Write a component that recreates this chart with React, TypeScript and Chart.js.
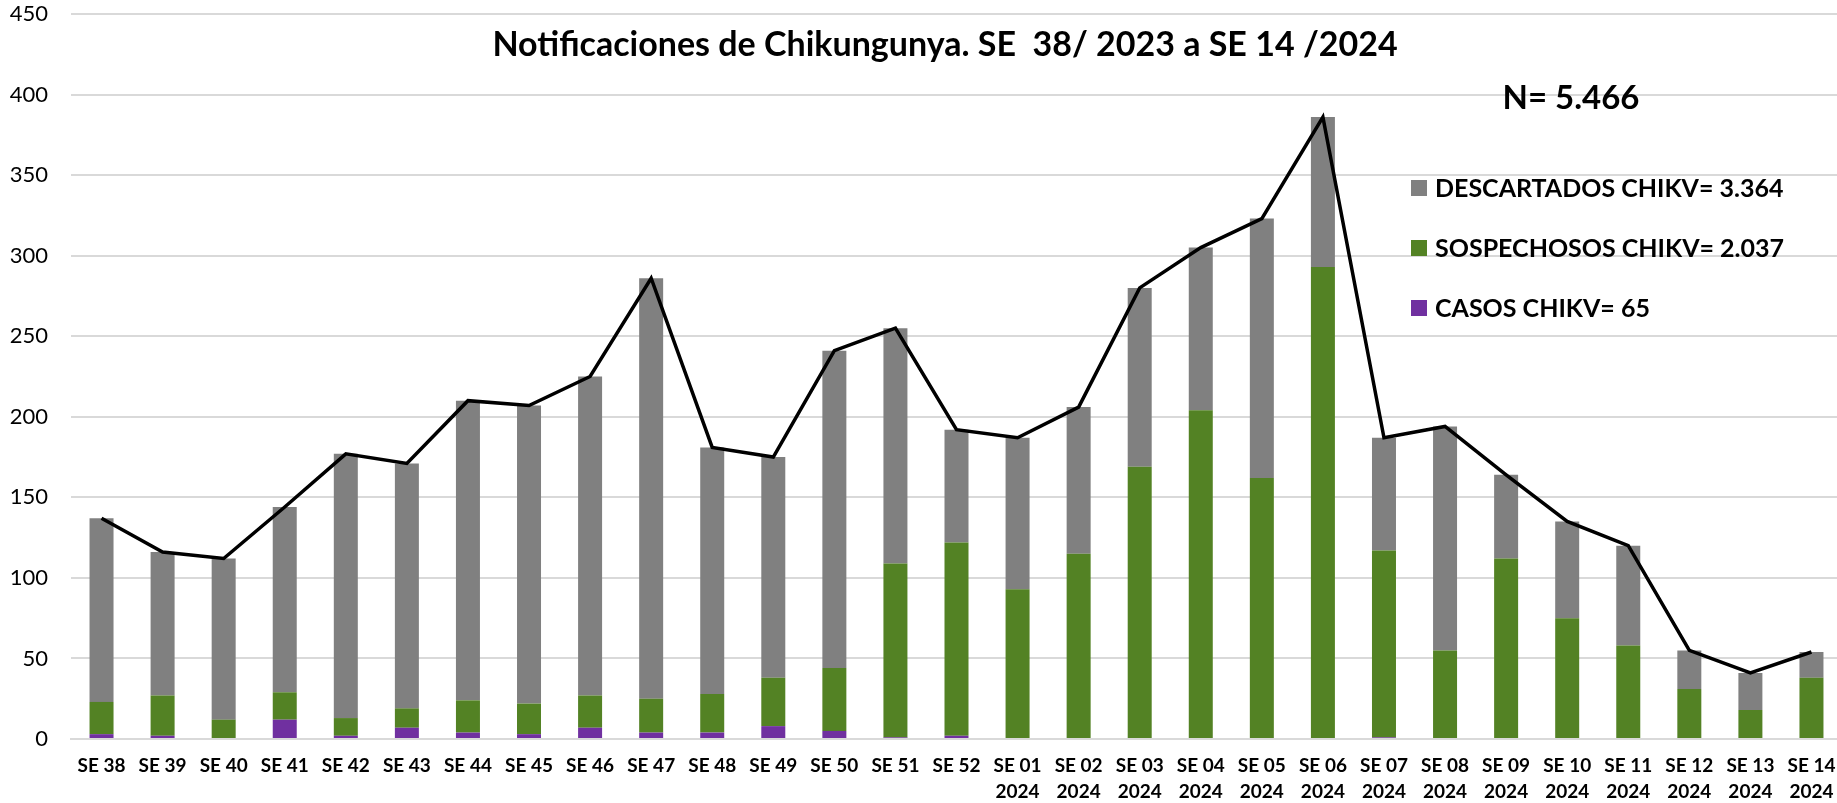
import React, { useEffect, useRef } from "react";
import { Chart, registerables } from "chart.js";

Chart.register(...registerables);

const weeks: (string | string[])[] = [
  "SE 38", "SE 39", "SE 40", "SE 41", "SE 42", "SE 43", "SE 44", "SE 45", "SE 46", "SE 47",
  "SE 48", "SE 49", "SE 50", "SE 51", "SE 52",
  ["SE 01", "2024"], ["SE 02", "2024"], ["SE 03", "2024"], ["SE 04", "2024"], ["SE 05", "2024"],
  ["SE 06", "2024"], ["SE 07", "2024"], ["SE 08", "2024"], ["SE 09", "2024"], ["SE 10", "2024"],
  ["SE 11", "2024"], ["SE 12", "2024"], ["SE 13", "2024"], ["SE 14", "2024"],
];

const casos = [3, 2, 0, 12, 2, 7, 4, 3, 7, 4, 4, 8, 5, 1, 2, 0, 0, 0, 0, 0, 0, 1, 0, 0, 0, 0, 0, 0, 0];
const sospechosos = [20, 25, 12, 17, 11, 12, 20, 19, 20, 21, 24, 30, 39, 108, 120, 93, 115, 169, 204, 162, 293, 116, 55, 112, 75, 58, 31, 18, 38];
const descartados = [114, 89, 100, 115, 164, 152, 186, 185, 198, 261, 153, 137, 197, 146, 70, 94, 91, 111, 101, 161, 93, 70, 139, 52, 60, 62, 24, 23, 16];
const totales = [137, 116, 112, 144, 177, 171, 210, 207, 225, 286, 181, 175, 241, 255, 192, 187, 206, 280, 305, 323, 386, 187, 194, 164, 135, 120, 55, 41, 54];

const legendLabels = ["DESCARTADOS CHIKV= 3.364", "SOSPECHOSOS CHIKV= 2.037", "CASOS CHIKV= 65"];
const titleText = "Notificaciones de Chikungunya. SE  38/ 2023 a SE 14 /2024";
const totalText = "N= 5.466";
const yTicks = [0, 50, 100, 150, 200, 250, 300, 350, 400, 450];

const GRAY = "#808080";
const GREEN = "#538224";
const PURPLE = "#7030a0";
const FONT = "Lato, 'Open Sans', sans-serif";

const overlayPlugin = {
  id: "overlay",
  afterDraw(chart: any) {
    const ctx = chart.ctx as CanvasRenderingContext2D;
    ctx.save();
    ctx.fillStyle = "#000";
    ctx.textBaseline = "middle";
    ctx.textAlign = "center";
    ctx.font = `bold 34px ${FONT}`;
    ctx.fillText(titleText, 945, 45);
    ctx.font = `bold 33px ${FONT}`;
    ctx.fillText(totalText, 1571, 98);
    const colors = [GRAY, GREEN, PURPLE];
    ctx.textAlign = "left";
    ctx.font = `bold 25px ${FONT}`;
    legendLabels.forEach((t, i) => {
      const cy = 188 + i * 60;
      ctx.fillStyle = colors[i];
      ctx.fillRect(1411, cy - 8, 16, 16);
      ctx.fillStyle = "#000";
      ctx.fillText(t, 1435, cy + 1);
    });
    ctx.restore();
  },
};

export default function App() {
  const ref = useRef<HTMLCanvasElement | null>(null);
  useEffect(() => {
    if (!ref.current) return;
    const chart = new Chart(ref.current, {
      type: "bar",
      data: {
        labels: weeks as any,
        datasets: [
          {
            type: "line",
            label: "Total",
            data: totales,
            borderColor: "#000",
            borderWidth: 3.5,
            pointRadius: 0,
            tension: 0,
            fill: false,
            order: 0,
            stack: "total",
          } as any,
          {
            label: legendLabels[2],
            data: casos,
            backgroundColor: PURPLE,
            stack: "bars",
            order: 1,
          },
          {
            label: legendLabels[1],
            data: sospechosos,
            backgroundColor: GREEN,
            stack: "bars",
            order: 1,
          },
          {
            label: legendLabels[0],
            data: descartados,
            backgroundColor: GRAY,
            stack: "bars",
            order: 1,
          },
        ],
      },
      options: {
        animation: false,
        responsive: false,
        devicePixelRatio: 1,
        layout: { padding: { left: 0, right: 4, top: 14, bottom: 0 } },
        datasets: {
          bar: { barPercentage: 0.393, categoryPercentage: 1, borderWidth: 0 },
        } as any,
        plugins: {
          legend: { display: false },
          title: { display: false },
          tooltip: { enabled: false },
        },
        scales: {
          x: {
            stacked: true,
            grid: { display: false, drawTicks: false },
            border: { display: true, color: "#d9d9d9", width: 2 },
            ticks: {
              color: "#000",
              font: { family: FONT, size: 19, weight: "bold", lineHeight: 1.37 },
              padding: 14,
              maxRotation: 0,
              autoSkip: false,
            },
            afterFit(scale: any) {
              scale.height = 64;
              scale.paddingLeft = 0;
              scale.paddingRight = 0;
            },
          },
          y: {
            stacked: true,
            min: 0,
            max: 450,
            afterBuildTicks(scale: any) {
              scale.ticks = yTicks.map((v) => ({ value: v }));
            },
            grid: { color: "#d9d9d9", lineWidth: 2, drawTicks: false },
            border: { display: false },
            ticks: {
              color: "#000",
              font: { family: FONT, size: 22 },
              padding: 23,
            },
            afterFit(scale: any) {
              scale.width = 71;
              scale.paddingTop = 0;
              scale.paddingBottom = 0;
            },
          },
        },
      },
      plugins: [overlayPlugin],
    });
    return () => chart.destroy();
  }, []);
  return (
    <div style={{ position: "absolute", left: 0, top: 0, width: 1837, height: 803, overflow: "hidden", background: "#fff" }}>
      <canvas ref={ref} width={1846} height={803} style={{ display: "block" }} />
    </div>
  );
}
